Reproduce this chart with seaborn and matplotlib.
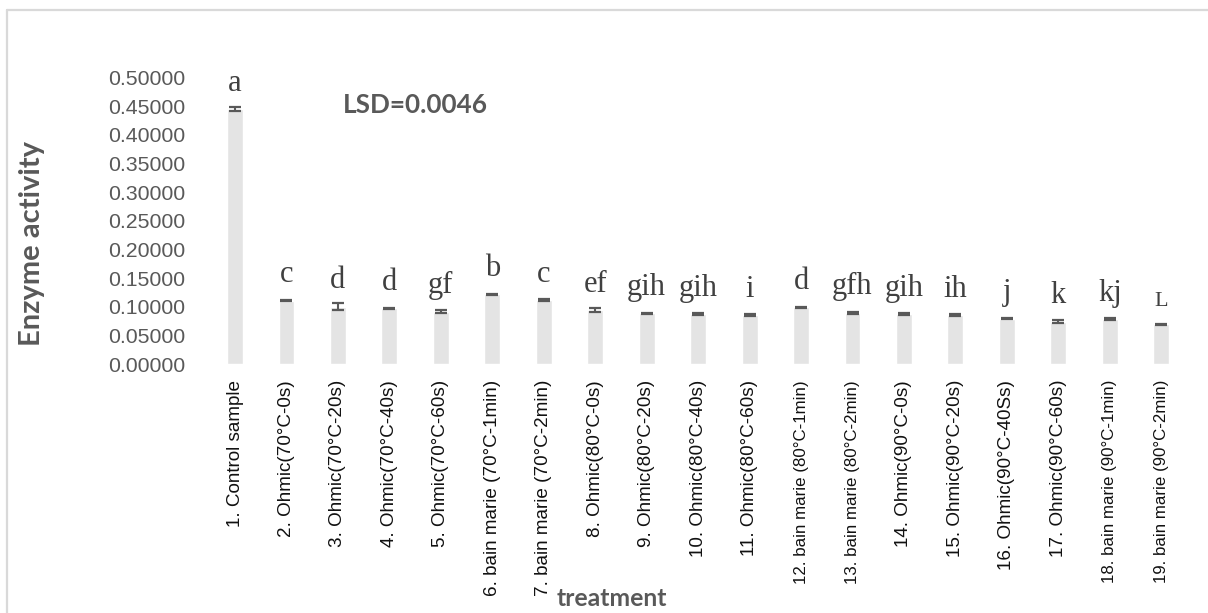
import matplotlib
matplotlib.use("Agg")
import matplotlib.pyplot as plt
from matplotlib.lines import Line2D
import seaborn as sns
import pandas as pd

# Treatments, mean enzyme activity, error and LSD grouping letters
treatments = [
    "1. Control sample",
    "2. Ohmic(70°C-0s)",
    "3. Ohmic(70°C-20s)",
    "4. Ohmic(70°C-40s)",
    "5. Ohmic(70°C-60s)",
    "6. bain marie (70°C-1min)",
    "7. bain marie (70°C-2min)",
    "8. Ohmic(80°C-0s)",
    "9. Ohmic(80°C-20s)",
    "10. Ohmic(80°C-40s)",
    "11. Ohmic(80°C-60s)",
    "12. bain marie (80°C-1min)",
    "13. bain marie (80°C-2min)",
    "14. Ohmic(90°C-0s)",
    "15. Ohmic(90°C-20s)",
    "16. Ohmic(90°C-40Ss)",
    "17. Ohmic(90°C-60s)",
    "18. bain marie (90°C-1min)",
    "19. bain marie (90°C-2min)",
]
activity = [0.4450, 0.1105, 0.1000, 0.0970, 0.0914, 0.1217, 0.1118, 0.0940,
            0.0885, 0.0873, 0.0850, 0.0990, 0.0896, 0.0868, 0.0856, 0.0790,
            0.0740, 0.0786, 0.0693]
errors = [0.0040, 0.0010, 0.0058, 0.0010, 0.0025, 0.0010, 0.0025, 0.0035,
          0.0010, 0.0015, 0.0020, 0.0010, 0.0015, 0.0020, 0.0015, 0.0010,
          0.0020, 0.0010, 0.0010]
letters = ["a", "c", "d", "d", "gf", "b", "c", "ef", "gih", "gih", "i", "d",
           "gfh", "gih", "ih", "j", "k", "kj", "L"]
small_labels = {12, 13, 18, 19}
yticks = [0.0, 0.05, 0.10, 0.15, 0.20, 0.25, 0.30, 0.35, 0.40, 0.45, 0.50]

df = pd.DataFrame({"treatment": treatments, "activity": activity})

sns.set_theme(style="white")
plt.rcParams["font.family"] = ["Liberation Sans", "DejaVu Sans"]

W, H = 1208, 613
fig = plt.figure(figsize=(W / 100, H / 100), dpi=100)
ax = fig.add_axes([209.3 / W, 1 - 364 / H, (1187 - 209.3) / W, (364 - 77.7) / H])

GREY = "#595959"
sns.barplot(data=df, x="treatment", y="activity", color="#e4e4e4",
            saturation=1, width=0.31, errorbar=None, ax=ax)

xs = [p.get_x() + p.get_width() / 2 for p in ax.patches]
ax.errorbar(xs, activity, yerr=errors, fmt="none", ecolor=GREY,
            elinewidth=1.5, capsize=4.3, capthick=1.6)

for x, v, lab in zip(xs, activity, letters):
    ax.annotate(lab, (x, v), xytext=(0, 13.3), textcoords="offset points",
                ha="center", va="baseline", family="Liberation Serif",
                fontsize=16 if lab == "L" else 22, color="#404040")

ax.set_ylim(0, 0.5)
ax.set_xlim(-0.5, len(treatments) - 0.5)
ax.set_yticks(yticks)
ax.set_yticklabels([f"{t:.5f}" for t in yticks], fontsize=15.3, color=GREY)
ax.tick_params(axis="y", length=0, pad=17.5)
ax.tick_params(axis="x", length=0, pad=11.5)
ax.set_xticks(range(len(treatments)))
ax.set_xticklabels(treatments, rotation=90, ha="center", va="top", color="#111111")
for i, t in enumerate(ax.get_xticklabels(), start=1):
    t.set_fontsize(12.2 if i in small_labels else 13.6)

ax.set_xlabel("")
ax.set_ylabel("")
for s in ax.spines.values():
    s.set_visible(False)
ax.grid(False)

fig.text(32 / W, 1 - 243 / H, "Enzyme activity", rotation=90, ha="center",
         va="center", fontsize=21, fontweight="bold", color=GREY,
         family=["Lato", "DejaVu Sans"])
fig.text(612 / W, 1 - 598 / H, "treatment", ha="center", va="center",
         fontsize=17.8, fontweight="bold", color=GREY, family=["Lato", "DejaVu Sans"])
fig.text(415 / W, 1 - 105 / H, "LSD=0.0046", ha="center", va="center",
         fontsize=18.8, fontweight="bold", color=GREY, family=["Lato", "DejaVu Sans"])

# chart-area frame (top and left edges)
fx, fy = 6.5 / W, 1 - 9.5 / H
fig.add_artist(Line2D([fx, fx], [0, fy], color="#d9d9d9", lw=1.6))
fig.add_artist(Line2D([fx, 1], [fy, fy], color="#d9d9d9", lw=1.6))

fig.savefig("out.png", dpi=100, facecolor="white")
